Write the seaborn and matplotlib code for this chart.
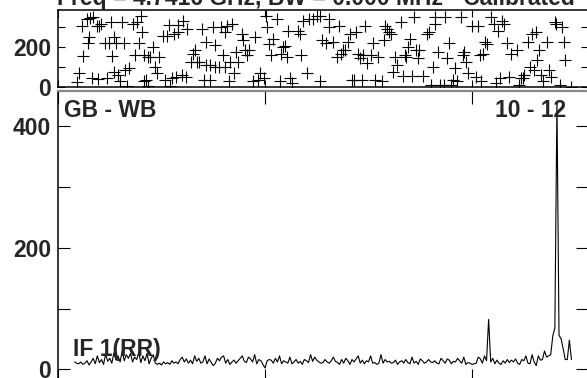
import numpy as np
import pandas as pd
import matplotlib.pyplot as plt
import seaborn as sns
from matplotlib.ticker import MultipleLocator, FuncFormatter

# phase points (channel, degrees)
phase_chan = [9, 10, 11.8, 12, 14, 14.5, 15, 15.4, 16.3, 17, 19, 19.4, 20, 21, 22.7, 23.6, 24.5, 25.4, 26, 27,
              27, 28, 29, 30, 30.8, 31.7, 32.6, 33.5, 34.4, 36, 37, 38, 39, 40, 40.8, 41.7, 41.7, 42.5, 43.5, 43.5,
              44.4, 46, 47, 48, 49, 50.7, 51.6, 52.5, 53.4, 54.3, 55, 56, 57, 58, 58, 59.7, 60.6, 61.6, 62.5, 64.3,
              65, 66, 67, 67.9, 69.7, 70.6, 71.5, 71.5, 73.3, 73.3, 75, 76, 76, 78, 78.7, 79.7, 80.6, 80.6, 81.5, 82.4,
              83, 84, 85, 86, 87, 88.7, 89.6, 90.5, 91.4, 92.3, 94, 95, 96.8, 97.7, 99.6, 100.5, 101, 102, 103, 104,
              106, 107, 107.7, 108.6, 109.5, 110.4, 111, 112, 113, 115.8, 116.7, 117.6, 118.5, 120.4, 121, 123, 125, 126.7, 126.7, 127.6,
              129.4, 131, 131, 133, 134.8, 135.7, 136.6, 137.5, 138.5, 140, 141, 142, 143, 144, 144.8, 145.7, 146.6, 147.5, 148.4, 149.3,
              151, 152, 153, 154.7, 156.6, 157.5, 158, 159, 160, 161, 162, 163, 163.8, 165.6, 166.5, 167.4, 168, 169, 170, 171,
              172, 173, 174, 174.6, 176.4, 178, 179, 180, 181, 182, 182, 183.7, 184.6, 186.4, 187, 188, 189, 190, 191, 192,
              192.7, 194.5, 195.4, 196, 197, 198, 200, 201.8, 202.7, 203.6, 204.5, 205.4, 206.3, 207, 209, 210.8, 211.7, 212.6, 213.5, 214.4,
              215.4, 217, 218, 219, 221.7, 222.6, 223.5, 224.4, 225, 227, 228, 229, 229.8, 230.7, 231.6, 232.5, 233.5, 234.4, 236, 237,
              238, 240, 240.7, 242.5, 243.4, 244.3, 245, 248]
phase_deg = [23, 69, 307, 154, 339, 220, 249, 344, 46, 348, 307, 39, 307, 315, 220, 43, 220, 323, 154, 249,
             77, 220, 61, 28, 323, 220, 85, 7, 93, 315, 159, 323, 220, 356, 274, 28, 159, 36, 7, 151,
             151, 200, 102, 72, 151, 257, 36, 257, 311, 7, 44, 265, 52, 274, 311, 61, 328, 52, 290, 126,
             167, 184, 126, 126, 290, 36, 225, 110, 36, 110, 298, 208, 102, 102, 298, 159, 102, 274, 307, 28,
             126, 315, 69, 175, 126, 265, 233, 184, 159, 184, 28, 249, 36, 69, 44, 356, 298, 216, 159, 241,
             339, 28, 167, 200, 203, 151, 282, 44, 20, 282, 265, 159, 331, 69, 339, 339, 356, 28, 356, 233,
             220, 339, 298, 225, 151, 307, 167, 184, 187, 225, 265, 36, 36, 274, 167, 143, 36, 159, 307, 118,
             159, 220, 36, 151, 28, 233, 307, 290, 274, 265, 77, 151, 110, 323, 56, 159, 151, 200, 241, 56,
             348, 184, 143, 184, 56, 265, 274, 11, 102, 348, 315, 175, 11, 11, 348, 143, 220, 11, 36, 93,
             28, 348, 159, 175, 126, 69, 307, 52, 307, 159, 28, 167, 225, 216, 348, 315, 20, 282, 44, 331,
             315, 220, 52, 167, 184, 11, 44, 44, 61, 225, 102, 265, 85, 274, 134, 184, 61, 28, 225, 85,
             52, 323, 315, 11, 298, 225, 134, 0]

# amplitude spectrum, channels 8..248
amp_chan = list(range(8, 249))
amp_vals = [12, 10, 9, 12, 8, 10, 14, 7, 12, 18,
            9, 22, 11, 16, 8, 25, 13, 18, 10, 27,
            15, 22, 12, 30, 14, 24, 18, 26, 12, 20,
            16, 28, 11, 22, 14, 26, 9, 18, 24, 10,
            8, 10, 7, 12, 9, 11, 8, 14, 10, 12,
            9, 16, 20, 12, 17, 10, 15, 9, 22, 13,
            18, 10, 12, 22, 9, 17, 11, 6, 10, 18,
            14, 20, 22, 10, 16, 8, 12, 15, 10, 14,
            18, 22, 13, 11, 20, 17, 12, 24, 9, 16,
            14, 8, 2, 14, 16, 15, 10, 18, 12, 22,
            9, 14, 12, 10, 20, 9, 12, 16, 10, 13,
            8, 16, 14, 11, 24, 13, 20, 15, 12, 10,
            11, 16, 12, 10, 14, 20, 13, 11, 8, 16,
            10, 18, 14, 8, 16, 12, 17, 22, 10, 15,
            9, 14, 12, 22, 10, 11, 8, 10, 24, 10,
            16, 12, 13, 10, 11, 15, 8, 12, 14, 10,
            16, 11, 9, 20, 10, 13, 8, 17, 14, 10,
            12, 16, 12, 11, 14, 10, 9, 18, 14, 10,
            17, 15, 9, 13, 12, 18, 14, 10, 20, 8,
            11, 10, 8, 9, 10, 20, 17, 10, 22, 14,
            82, 12, 18, 9, 15, 10, 8, 14, 10, 16,
            11, 15, 12, 17, 10, 8, 16, 14, 22, 10,
            9, 24, 12, 6, 22, 15, 16, 30, 20, 22,
            24, 55, 68, 440, 56, 50, 34, 16, 16, 48,
            16]

title = "Freq = 4.7416 GHz, BW = 0.000 MHz - Calibrated"

sns.set_style("ticks")
plt.rcParams['font.family'] = ['Liberation Sans', 'DejaVu Sans']
plt.rcParams['font.weight'] = 'bold'
FS = 16.5

phase_df = pd.DataFrame({'chan': phase_chan, 'phase': phase_deg})
amp_df = pd.DataFrame({'chan': amp_chan, 'amp': amp_vals})

fig = plt.figure(figsize=(5.87, 3.78), dpi=100)
ax_ph = fig.add_axes([0.0988, 0.7698, 0.9029, 0.2037])
ax_amp = fig.add_axes([0.0988, -0.0106, 0.9029, 0.7698])

sns.scatterplot(data=phase_df, x='chan', y='phase', marker='+', color='black',
                s=65, linewidth=0.8, ax=ax_ph, legend=False)
sns.lineplot(data=amp_df, x='chan', y='amp', color='black', linewidth=0.8, ax=ax_amp)

only_even = FuncFormatter(lambda v, p: f"{int(v)}" if int(v) % 200 == 0 else "")

for ax in (ax_ph, ax_amp):
    ax.set_xlim(0, 256)
    ax.xaxis.set_major_locator(MultipleLocator(100))
    ax.yaxis.set_major_locator(MultipleLocator(100))
    ax.yaxis.set_major_formatter(only_even)
    ax.set_xlabel('')
    ax.set_ylabel('')
    ax.tick_params(direction='in', top=True, right=True, labelbottom=False,
                   labelsize=FS, pad=5, width=0.8, color='black')
    for s in ax.spines.values():
        s.set_linewidth(1.1)
        s.set_color('black')

ax_ph.tick_params(length=5)
ax_amp.tick_params(axis='x', length=9.5)
ax_amp.tick_params(axis='y', length=8.5)

ax_ph.set_ylim(0, 385)
ax_amp.set_ylim(-21, 458)
ax_amp.spines['top'].set_color('#888888')
ax_amp.spines['top'].set_linewidth(1.6)

ax_amp.text(0.011, 0.91, "GB - WB", transform=ax_amp.transAxes, fontsize=FS,
            fontweight='bold', va='baseline', ha='left')
ax_amp.text(0.958, 0.91, "10 - 12", transform=ax_amp.transAxes, fontsize=FS,
            fontweight='bold', va='baseline', ha='right')
ax_amp.text(0.028, 0.089, "IF 1(RR)", transform=ax_amp.transAxes, fontsize=FS,
            fontweight='bold', va='baseline', ha='left')

fig.text(0.097, 1 - 5 / 378, title, fontsize=FS, fontweight='bold', va='baseline', ha='left')

fig.savefig('out.png', dpi=100)
